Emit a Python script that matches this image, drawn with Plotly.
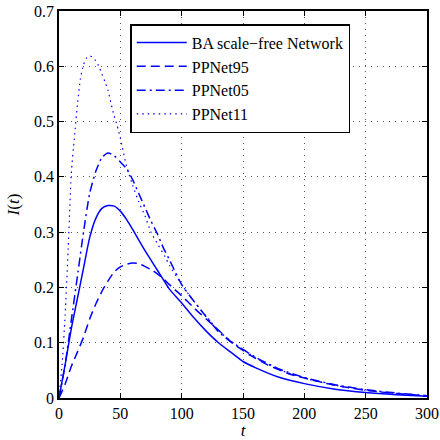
import plotly.graph_objects as go

# ---- data ----
t_ba = [0, 5, 10, 15, 20, 25, 30, 35, 40, 45, 50, 55, 60, 70, 80, 90, 100, 110, 120, 130, 140, 150, 160, 180, 200, 225, 250, 275, 300]
i_ba = [0, 0.06, 0.125, 0.18, 0.235, 0.29, 0.325, 0.343, 0.348, 0.347, 0.338, 0.323, 0.305, 0.267, 0.232, 0.197, 0.172, 0.145, 0.121, 0.100, 0.083, 0.066, 0.055, 0.037, 0.026, 0.016, 0.010, 0.006, 0.003]

t_95 = [0, 5, 10, 15, 20, 25, 30, 35, 40, 45, 50, 55, 60, 65, 70, 76, 85, 90, 100, 110, 120, 130, 141, 150, 156, 170, 187, 200, 225, 250, 275, 300]
i_95 = [0, 0.025, 0.057, 0.083, 0.11, 0.143, 0.17, 0.193, 0.212, 0.228, 0.237, 0.242, 0.244, 0.243, 0.238, 0.231, 0.216, 0.205, 0.185, 0.163, 0.143, 0.123, 0.1, 0.086, 0.077, 0.06, 0.044, 0.036, 0.023, 0.014, 0.008, 0.004]

t_05 = [0, 5, 10, 15, 20, 25, 30, 35, 40, 45, 50, 55, 60, 65, 70, 75, 80, 85, 90, 95, 100, 110, 120, 130, 141, 150, 160, 180, 200, 225, 250, 275, 300]
i_05 = [0, 0.06, 0.14, 0.22, 0.3, 0.37, 0.41, 0.435, 0.443, 0.438, 0.427, 0.415, 0.395, 0.37, 0.345, 0.32, 0.298, 0.272, 0.25, 0.227, 0.205, 0.175, 0.147, 0.12, 0.1, 0.088, 0.074, 0.052, 0.037, 0.024, 0.015, 0.009, 0.004]

t_11 = [0, 2.5, 5, 7.5, 10, 12.5, 15, 17.5, 20, 22.5, 25, 27.5, 30, 32.5, 35, 37.5, 40, 42.5, 45, 47.5, 50, 55, 60, 65, 70, 75, 80, 86.6, 90, 100, 110, 120, 130, 140, 150, 160, 180, 200, 225, 250, 275, 300]
i_11 = [0, 0.06, 0.15, 0.27, 0.405, 0.47, 0.53, 0.578, 0.603, 0.615, 0.619, 0.616, 0.61, 0.6, 0.586, 0.572, 0.556, 0.532, 0.51, 0.492, 0.47, 0.42, 0.385, 0.355, 0.33, 0.3, 0.28, 0.255, 0.24, 0.205, 0.175, 0.148, 0.122, 0.103, 0.088, 0.073, 0.051, 0.036, 0.023, 0.014, 0.008, 0.004]

names = ["BA scale\u2212free Network", "PPNet95", "PPNet05", "PPNet11"]
x_ticks = [0, 50, 100, 150, 200, 250, 300]
y_ticks = [0, 0.1, 0.2, 0.3, 0.4, 0.5, 0.6, 0.7]

BLUE = "#0000ff"
FONT = "Liberation Serif"

fig = go.Figure()
series = [(t_ba, i_ba, "solid", 1.5), (t_95, i_95, "9px,5px", 1.5),
          (t_05, i_05, "9px,4px,2px,4px", 1.5), (t_11, i_11, "1.5px,4px", 1.2)]
for k, (tx, iy, dash, w) in enumerate(series):
    fig.add_trace(go.Scatter(x=tx, y=iy, mode="lines", name=names[k],
                             legendgroup=f"g{k}",
                             line=dict(color=BLUE, width=w, dash=dash, shape="spline", smoothing=0.6)))

axis_common = dict(showline=True, linecolor="black", linewidth=1.5, mirror="ticks",
                   ticks="inside", ticklen=5, tickcolor="black", tickwidth=1,
                   showgrid=True, gridcolor="#555", gridwidth=1, griddash="1px,5px",
                   zeroline=False, automargin=False,
                   tickfont=dict(family=FONT, size=16, color="black"))

fig.update_xaxes(range=[0, 300], tickvals=x_ticks, **axis_common,
                 title=dict(text="<i>t</i>", font=dict(family=FONT, size=17, color="black"), standoff=4))
fig.update_yaxes(range=[0, 0.7], tickvals=y_ticks, **axis_common,
                 title=dict(text="<i>I</i>(<i>t</i>)", font=dict(family=FONT, size=17, color="black"), standoff=10))

fig.update_layout(
    width=440, height=440,
    margin=dict(l=59, r=13, t=11, b=42, autoexpand=False),
    plot_bgcolor="white", paper_bgcolor="white",
    font=dict(family=FONT),
    showlegend=True,
    legend=dict(x=0.1936, y=0.966, xanchor="left", yanchor="top",
                bgcolor="white", bordercolor="black", borderwidth=1.5,
                font=dict(family=FONT, size=16, color="black"),
                traceorder="grouped", tracegroupgap=0, itemwidth=50),
)

fig.write_html("out.html", config={"displayModeBar": False},
               post_script="document.body.style.margin='0';document.body.style.padding='0';")
